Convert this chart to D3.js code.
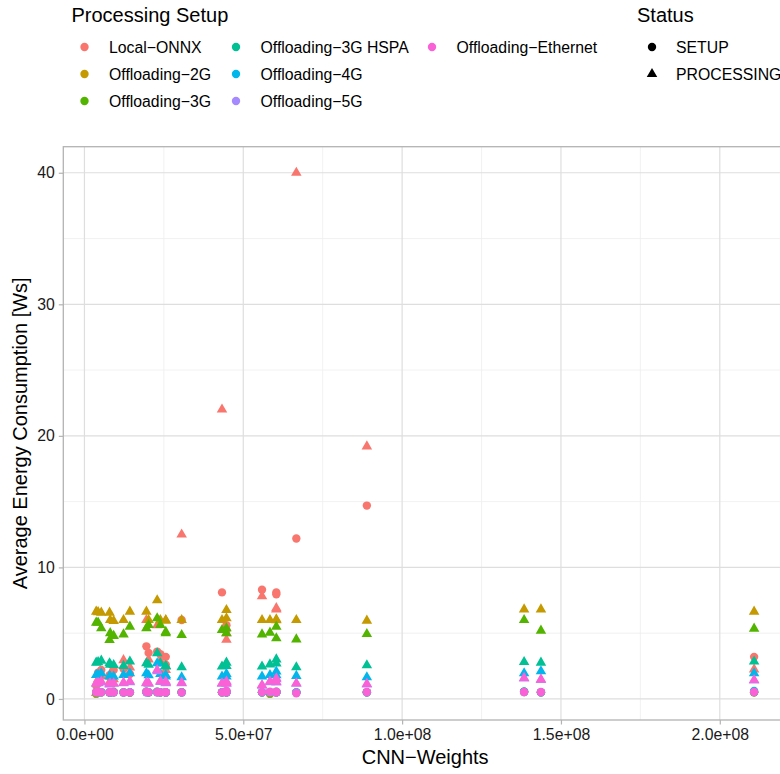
<!DOCTYPE html>
<html>
<head>
<meta charset="utf-8">
<script src="https://cdn.jsdelivr.net/npm/d3@7/dist/d3.min.js"></script>
<style>
  html, body { margin: 0; padding: 0; background: #fff; overflow: hidden; }
  svg { display: block; font-family: "Liberation Sans", Arial, Helvetica, sans-serif; }
</style>
</head>
<body>
<svg id="chart" width="780" height="774"></svg>
<script>
// ---- data -------------------------------------------------------------
const setups = ["Local\u2212ONNX", "Offloading\u22122G", "Offloading\u22123G", "Offloading\u22123G HSPA",
                "Offloading\u22124G", "Offloading\u22125G", "Offloading\u2212Ethernet"];
const statuses = ["SETUP", "PROCESSING"];
const setupColors = ["#F8766D", "#C49A00", "#53B400", "#00C094", "#00B6EB", "#A58AFF", "#FB61D7"];

// number of CNN weights per model
const cnnWeights = [3.7e6, 4.3e6, 5.3e6, 7.9e6, 8.1e6, 9.2e6, 12.3e6, 14.3e6, 19.5e6, 20.2e6,
                    22.9e6, 23.9e6, 25.6e6, 25.6e6, 30.6e6, 43.3e6, 44.7e6, 44.7e6, 55.9e6, 58.4e6,
                    60.4e6, 60.4e6, 66.7e6, 88.9e6, 138.4e6, 143.7e6, 210.8e6];

// average energy consumption [Ws], one value per model (null = no measurement)
const localOnnxSetup      = [1.0, 2.0, 2.2, 1.8, 1.6, 2.2, 2.3, 1.9, 4.0, 3.5, 3.6, 3.4, 3.2, 2.6, 6.0,
                             8.1, 5.6, 5.2, 8.3, null, 8.1, 7.95, 12.2, 14.7, null, null, 3.2];
const localOnnxProcessing = [0.45, 1.5, 1.7, 1.3, 1.9, 1.5, 2.95, 2.4, 6.0, 3.0, 5.6, 2.9, 2.2, 2.5, 12.5,
                             22.0, 4.5, 5.0, 7.8, null, 6.8, 6.9, 40.0, 19.2, null, null, 2.25];
const off2gSetup          = [0.38, 0.5, 0.52, 0.48, 0.5, 0.55, 0.5, 0.47, 0.52, 0.5, 0.55, 0.5, 0.48, 0.5, 0.52,
                             0.5, 0.55, 0.5, 0.5, 0.38, 0.5, 0.52, 0.48, 0.5, 0.52, 0.5, 0.5];
const off2gProcessing     = [6.64, 6.6, 6.56, 6.56, 6.0, 5.93, 6.0, 6.64, 6.64, 6.0, 7.5, 6.0, 6.0, 5.95, 6.0,
                             6.0, 6.76, 6.13, 6.0, 6.0, 6.05, 5.98, 6.0, 5.95, 6.81, 6.81, 6.64];
const off3gSetup          = [0.48, 0.5, 0.5, 0.5, 0.52, 0.5, 0.5, 0.5, 0.55, 0.5, 0.52, 0.5, 0.5, 0.5, 0.5,
                             0.5, 0.52, 0.5, 0.5, 0.45, 0.5, 0.5, 0.5, 0.5, 0.55, 0.5, 0.5];
const off3gProcessing     = [5.8, 5.8, 5.37, 4.48, 5.0, 4.79, 4.91, 5.5, 5.37, 5.62, 6.13, 5.62, 4.99, 5.1, 4.86,
                             5.24, 5.37, 4.99, 4.91, 5.04, 5.5, 4.61, 4.53, 4.94, 6.0, 5.19, 5.34];
const offHspaSetup        = [0.5, 0.52, 0.5, 0.5, 0.5, 0.52, 0.5, 0.5, 0.55, 0.5, 0.5, 0.5, 0.5, 0.52, 0.5,
                             0.52, 0.5, 0.5, 0.5, 0.5, 0.55, 0.5, 0.5, 0.52, 0.56, 0.5, 0.52];
const offHspaProcessing   = [2.76, 2.8, 2.91, 2.71, 2.6, 2.58, 2.51, 2.84, 2.71, 2.6, 3.47, 2.7, 2.46, 2.5, 2.41,
                             2.46, 2.76, 2.5, 2.46, 2.63, 3.01, 2.7, 2.41, 2.56, 2.81, 2.76, 2.84];
const off4gSetup          = [0.5, 0.5, 0.52, 0.5, 0.48, 0.5, 0.5, 0.52, 0.5, 0.5, 0.55, 0.5, 0.5, 0.5, 0.5,
                             0.5, 0.55, 0.5, 0.5, 0.5, 0.52, 0.5, 0.5, 0.5, 0.55, 0.52, 0.6];
const off4gProcessing     = [1.82, 1.85, 1.95, 1.75, 1.7, 1.7, 1.82, 1.95, 1.95, 1.8, 2.71, 1.9, 1.82, 1.7, 1.65,
                             1.7, 1.9, 1.7, 1.7, 1.82, 2.08, 1.8, 1.75, 1.65, 1.95, 2.1, 1.95];
const off5gSetup          = [0.5, 0.5, 0.5, 0.52, 0.5, 0.5, 0.48, 0.5, 0.5, 0.52, 0.5, 0.5, 0.5, 0.5, 0.48,
                             0.5, 0.5, 0.52, 0.5, 0.5, 0.5, 0.5, 0.5, 0.5, 0.52, 0.5, 0.52];
const off5gProcessing     = [1.15, 1.2, 1.25, 1.1, 1.12, 1.15, 1.2, 1.28, 1.2, 1.15, 2.1, 1.3, 1.25, 1.2, 1.2,
                             1.15, 1.28, 1.15, 1.0, 1.28, 1.5, 1.25, 1.15, 1.1, 1.55, 1.45, 1.4];
const offEthSetup         = [0.52, 0.55, 0.5, 0.5, 0.52, 0.5, 0.5, 0.5, 0.55, 0.5, 0.52, 0.5, 0.5, 0.52, 0.5,
                             0.5, 0.62, 0.5, 0.52, 0.56, 0.56, 0.5, 0.43, 0.53, 0.53, 0.53, 0.53];
const offEthProcessing    = [1.19, 1.22, 1.32, 1.14, 1.16, 1.19, 1.24, 1.32, 1.24, 1.2, 2.2, 1.35, 1.32, 1.25, 1.24,
                             1.19, 1.32, 1.2, 1.06, 1.32, 1.57, 1.3, 1.19, 1.14, 1.6, 1.49, 1.44];

const seriesValues = [
  [localOnnxSetup, localOnnxProcessing],
  [off2gSetup, off2gProcessing],
  [off3gSetup, off3gProcessing],
  [offHspaSetup, offHspaProcessing],
  [off4gSetup, off4gProcessing],
  [off5gSetup, off5gProcessing],
  [offEthSetup, offEthProcessing]
];

const xTicks = [0, 5e7, 1e8, 1.5e8, 2e8];
const yTicks = [0, 10, 20, 30, 40];

// ---- long table of points ---------------------------------------------
const rows = [];
setups.forEach((s, si) => {
  statuses.forEach((st, ti) => {
    seriesValues[si][ti].forEach((v, i) => {
      if (v != null) rows.push({ weights: cnnWeights[i], energy: v, setup: s, status: st });
    });
  });
});

// ---- layout -------------------------------------------------------------
const svg = d3.select("#chart");
const panel = { left: 63.3, top: 146.7, right: 787, bottom: 720 };

function expanded(ext) {
  const pad = (ext[1] - ext[0]) * 0.05;
  return [ext[0] - pad, ext[1] + pad];
}
const x = d3.scaleLinear().domain(expanded(d3.extent(rows, d => d.weights))).range([panel.left, panel.right]);
const y = d3.scaleLinear().domain(expanded(d3.extent(rows, d => d.energy))).range([panel.bottom, panel.top]);
const color = d3.scaleOrdinal().domain(setups).range(setupColors);
const shape = d3.scaleOrdinal().domain(statuses).range([d3.symbolCircle, d3.symbolTriangle]);
const symbolSize = { SETUP: 55, PROCESSING: 48 };

function minorTicks(ticks, domain) {
  const step = ticks[1] - ticks[0];
  const out = [];
  for (let v = ticks[0] - step / 2; v <= domain[1]; v += step) {
    if (v >= domain[0]) out.push(v);
  }
  return out;
}

const pw = panel.right - panel.left, ph = panel.bottom - panel.top;
const grid = svg.append("g");
// minor grid
grid.selectAll(".xminor").data(minorTicks(xTicks, x.domain())).join("line")
  .attr("x1", d => x(d)).attr("x2", d => x(d)).attr("y1", panel.top).attr("y2", panel.bottom)
  .attr("stroke", "#EDEDED").attr("stroke-width", 0.8);
grid.selectAll(".yminor").data(minorTicks(yTicks, y.domain())).join("line")
  .attr("y1", d => y(d)).attr("y2", d => y(d)).attr("x1", panel.left).attr("x2", panel.right)
  .attr("stroke", "#EDEDED").attr("stroke-width", 0.8);
// major grid
grid.selectAll(".xmajor").data(xTicks).join("line")
  .attr("x1", d => x(d)).attr("x2", d => x(d)).attr("y1", panel.top).attr("y2", panel.bottom)
  .attr("stroke", "#DEDEDE").attr("stroke-width", 1.2);
grid.selectAll(".ymajor").data(yTicks).join("line")
  .attr("y1", d => y(d)).attr("y2", d => y(d)).attr("x1", panel.left).attr("x2", panel.right)
  .attr("stroke", "#DEDEDE").attr("stroke-width", 1.2);

// points
svg.append("g").selectAll("path").data(rows).join("path")
  .attr("transform", d => `translate(${x(d.weights)},${y(d.energy)})`)
  .attr("d", d => d3.symbol().type(shape(d.status)).size(symbolSize[d.status])())
  .attr("fill", d => color(d.setup));

// panel border
svg.append("rect").attr("x", panel.left).attr("y", panel.top).attr("width", pw).attr("height", ph)
  .attr("fill", "none").attr("stroke", "#B3B3B3").attr("stroke-width", 1.3);

// axes
const sci = v => d3.format(".1e")(v).replace(/e([+-])(\d)$/, "e$10$2");
const xAxis = svg.append("g").attr("transform", `translate(0,${panel.bottom})`)
  .call(d3.axisBottom(x).tickValues(xTicks).tickFormat(sci).tickSize(4.5).tickPadding(4));
const yAxis = svg.append("g").attr("transform", `translate(${panel.left},0)`)
  .call(d3.axisLeft(y).tickValues(yTicks).tickFormat(d3.format("d")).tickSize(4.5).tickPadding(4));
[xAxis, yAxis].forEach(a => {
  a.select(".domain").remove();
  a.selectAll(".tick line").attr("stroke", "#B3B3B3").attr("stroke-width", 1.2);
  a.selectAll(".tick text").attr("fill", "#1A1A1A").style("font-size", "15.8px")
    .style("font-family", "\"Liberation Sans\", Arial, sans-serif");
});

// axis titles
svg.append("text").attr("x", (panel.left + panel.right) / 2).attr("y", 763.5)
  .attr("text-anchor", "middle").style("font-size", "20px").attr("fill", "#000")
  .text("CNN\u2212Weights");
svg.append("text")
  .attr("transform", `translate(27,${(panel.top + panel.bottom) / 2}) rotate(-90)`)
  .attr("text-anchor", "middle").style("font-size", "20px").attr("fill", "#000")
  .text("Average Energy Consumption [Ws]");

// ---- legends -------------------------------------------------------------
const legendRows = [47, 74, 101];
const lg = svg.append("g");
lg.append("text").attr("x", 71.5).attr("y", 21.5).style("font-size", "20px").text("Processing Setup");
const colX = [84.5, 236, 432];
setups.forEach((s, i) => {
  const cx = colX[Math.floor(i / 3)], cy = legendRows[i % 3];
  lg.append("path").attr("transform", `translate(${cx},${cy})`)
    .attr("d", d3.symbol().type(d3.symbolCircle).size(55)()).attr("fill", color(s));
  lg.append("text").attr("x", cx + 24.5).attr("y", cy + 5.6).style("font-size", "15.8px").text(s);
});
lg.append("text").attr("x", 637).attr("y", 21.5).style("font-size", "20px").text("Status");
statuses.forEach((st, i) => {
  const cx = 652, cy = legendRows[i];
  lg.append("path").attr("transform", `translate(${cx},${cy})`)
    .attr("d", d3.symbol().type(shape(st)).size(symbolSize[st])()).attr("fill", "#000");
  lg.append("text").attr("x", cx + 24).attr("y", cy + 5.6).style("font-size", "15.8px").text(st);
});
</script>
</body>
</html>
